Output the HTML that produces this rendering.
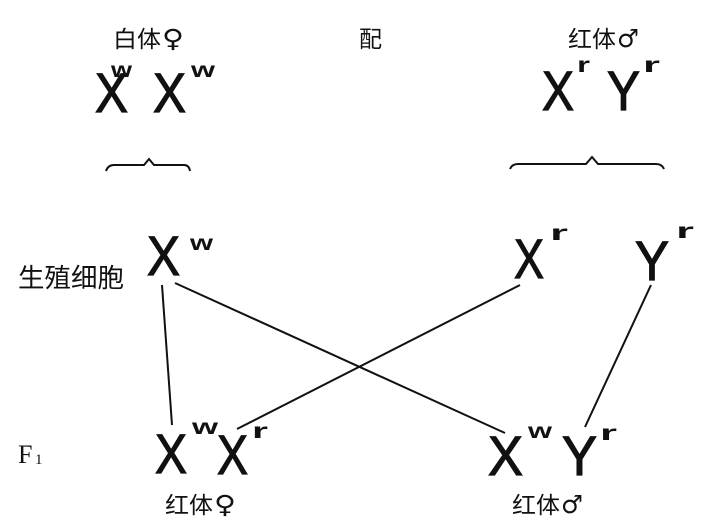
<!DOCTYPE html>
<html><head><meta charset="utf-8"><style>
html,body{margin:0;padding:0;background:#fff;}
svg{display:block;}
.c{font-family:"Liberation Sans","Noto Sans CJK SC",sans-serif;font-size:23px;fill:#111;}
.g{font-family:"DejaVu Sans",sans-serif;font-size:25px;fill:#111;}
.L{font-family:"Liberation Sans",sans-serif;font-size:56px;fill:#111;}
.s{font-family:"Liberation Sans",sans-serif;font-weight:bold;font-size:21px;fill:#111;}
</style></head><body>
<svg width="706" height="528" viewBox="0 0 706 528" xmlns="http://www.w3.org/2000/svg">
<text class="c" x="113" y="47" textLength="48" lengthAdjust="spacingAndGlyphs">白体</text>
<text class="g" x="162" y="47" textLength="22" lengthAdjust="spacingAndGlyphs">♀</text>
<text class="c" x="359" y="47">配</text>
<text class="c" x="568" y="47" textLength="48" lengthAdjust="spacingAndGlyphs">红体</text>
<text class="g" x="617" y="47" textLength="22" lengthAdjust="spacingAndGlyphs">♂</text>

<g stroke="#111" stroke-width="1.2">
<text class="L" x="95" y="112" textLength="33" lengthAdjust="spacingAndGlyphs">X</text>
<text class="L" x="153" y="112" textLength="33" lengthAdjust="spacingAndGlyphs">X</text>
<text class="L" x="542" y="110" textLength="32" lengthAdjust="spacingAndGlyphs">X</text>
<text class="L" x="607" y="110" textLength="33" lengthAdjust="spacingAndGlyphs">Y</text>
<text class="L" x="147" y="275" textLength="33" lengthAdjust="spacingAndGlyphs">X</text>
<text class="L" x="514" y="278" textLength="30" lengthAdjust="spacingAndGlyphs">X</text>
<text class="L" x="635" y="280" textLength="34" lengthAdjust="spacingAndGlyphs">Y</text>
<text class="L" x="155" y="473" textLength="32" lengthAdjust="spacingAndGlyphs">X</text>
<text class="L" x="217" y="474" textLength="31" lengthAdjust="spacingAndGlyphs">X</text>
<text class="L" x="488" y="475" textLength="35" lengthAdjust="spacingAndGlyphs">X</text>
<text class="L" x="562" y="475" textLength="35" lengthAdjust="spacingAndGlyphs">Y</text>
</g>
<text class="s" x="111" y="77" textLength="21" lengthAdjust="spacingAndGlyphs">w</text>
<text class="s" x="191" y="77" textLength="24" lengthAdjust="spacingAndGlyphs">w</text>
<text class="s" x="577" y="72" textLength="13" lengthAdjust="spacingAndGlyphs">r</text>
<text class="s" x="643" y="72" textLength="17" lengthAdjust="spacingAndGlyphs">r</text>

<g fill="none" stroke="#111" stroke-width="2">
<path d="M106 171 Q108 165 114 165 L144 165 L149 159 L154 165 L184 165 Q189 165 190 171"/>
<path d="M510 169 Q512 164 518 164 L586 164 L592 157 L598 164 L656 164 Q662 164 664 169"/>
</g>

<text class="c" x="18" y="287" textLength="106" lengthAdjust="spacingAndGlyphs" style="font-size:26px">生殖细胞</text>
<text class="s" x="190" y="250" textLength="23" lengthAdjust="spacingAndGlyphs">w</text>
<text class="s" x="550" y="240" textLength="18" lengthAdjust="spacingAndGlyphs">r</text>
<text class="s" x="676" y="238" textLength="18" lengthAdjust="spacingAndGlyphs">r</text>

<g stroke="#111" stroke-width="2">
<line x1="162" y1="285" x2="172" y2="425"/>
<line x1="175" y1="283" x2="505" y2="433"/>
<line x1="520" y1="285" x2="237" y2="429"/>
<line x1="651" y1="285" x2="585" y2="427"/>
</g>

<text x="18" y="463" style="font-family:'Liberation Serif',serif;font-size:26px;fill:#111">F</text>
<text x="35" y="464" style="font-family:'Liberation Serif',serif;font-size:15px;fill:#111">1</text>
<text class="s" x="192" y="434" textLength="26" lengthAdjust="spacingAndGlyphs">w</text>
<text class="s" x="252" y="438" textLength="16" lengthAdjust="spacingAndGlyphs">r</text>
<text class="s" x="528" y="438" textLength="24" lengthAdjust="spacingAndGlyphs">w</text>
<text class="s" x="600" y="440" textLength="17" lengthAdjust="spacingAndGlyphs">r</text>

<text class="c" x="165" y="513" textLength="48" lengthAdjust="spacingAndGlyphs">红体</text>
<text class="g" x="214" y="513" textLength="22" lengthAdjust="spacingAndGlyphs">♀</text>
<text class="c" x="512" y="513" textLength="48" lengthAdjust="spacingAndGlyphs">红体</text>
<text class="g" x="561" y="513" textLength="22" lengthAdjust="spacingAndGlyphs">♂</text>
</svg>
</body></html>
